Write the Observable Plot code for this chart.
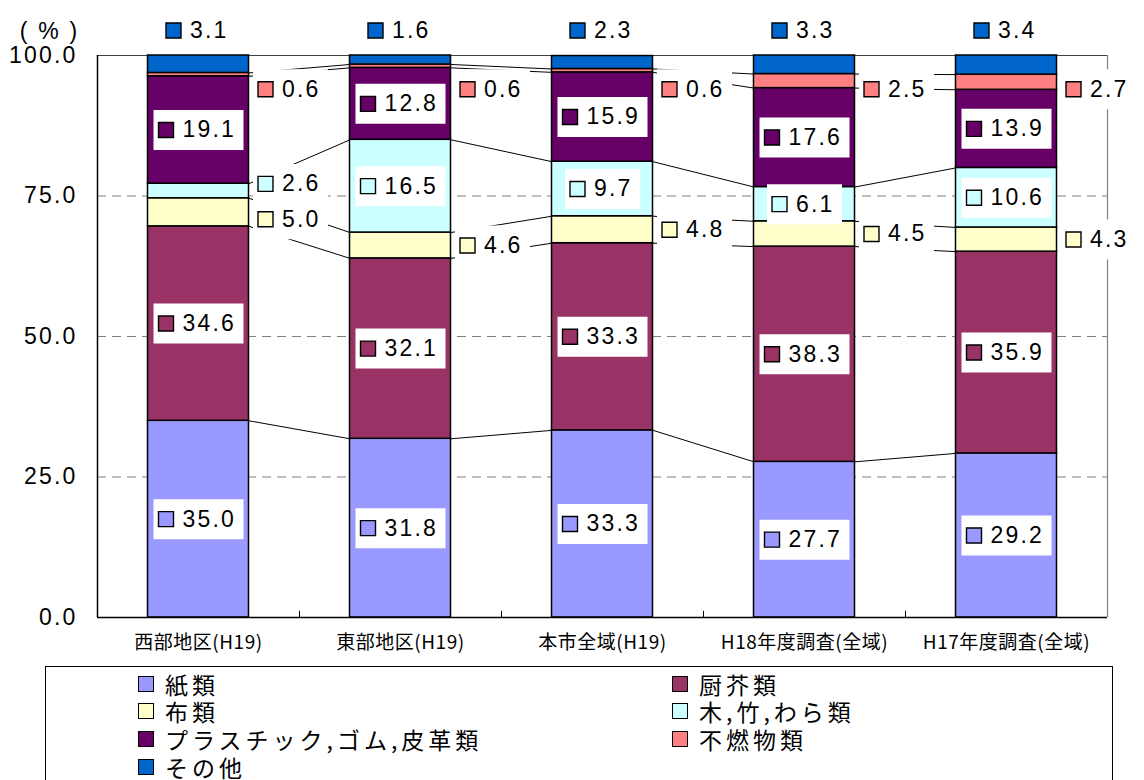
<!DOCTYPE html>
<html lang="ja">
<head>
<meta charset="utf-8">
<script src="https://cdn.jsdelivr.net/npm/d3@7"></script>
<script src="https://cdn.jsdelivr.net/npm/@observablehq/plot@0.6"></script>
<style>
  body { margin: 0; background: #fff; }
  #chart { position: absolute; left: 0; top: 0; }
  #chart svg text { letter-spacing: 2.2px; }
  #chart g[aria-label="x-axis tick label"] text {
    letter-spacing: 0.5px;
    font-family: "Noto Sans CJK JP", sans-serif;
    font-size: 19px;
  }
  #legend {
    position: absolute; left: 45px; top: 666px; width: 1068px; height: 130px;
    border: 1px solid #000; box-sizing: border-box;
    font-family: "Noto Sans CJK JP", sans-serif; font-size: 23px; letter-spacing: 4px;
  }
  .item { position: absolute; display: flex; align-items: center; height: 27px; line-height: 24px; white-space: nowrap; }
  .swatch { width: 14px; height: 14px; border: 1px solid #000; margin-right: 11px; flex: none; }
</style>
</head>
<body>
<div id="chart"></div>
<div id="legend"></div>
<script>
// Composition of household refuse by survey (percent by category)
const categories = ["西部地区(H19)", "東部地区(H19)", "本市全域(H19)", "H18年度調査(全域)", "H17年度調査(全域)"];
const types = ["紙類", "厨芥類", "布類", "木,竹,わら類", "プラスチック,ゴム,皮革類", "不燃物類", "その他"];
const colors = ["#9999FF", "#993366", "#FFFFCC", "#CCFFFF", "#660066", "#FF8080", "#0066CC"];

const paper         = [35.0, 31.8, 33.3, 27.7, 29.2];
const kitchen       = [34.6, 32.1, 33.3, 38.3, 35.9];
const cloth         = [5.0, 4.6, 4.8, 4.5, 4.3];
const wood          = [2.6, 16.5, 9.7, 6.1, 10.6];
const plastic       = [19.1, 12.8, 15.9, 17.6, 13.9];
const incombustible = [0.6, 0.6, 0.6, 2.5, 2.7];
const other         = [3.1, 1.6, 2.3, 3.3, 3.4];

const yTicks = [0, 25, 50, 75, 100];

const series = [paper, kitchen, cloth, wood, plastic, incombustible, other];

// layout
const W = 1144, H = 660;
const marginLeft = 97, marginRight = 37, marginTop = 55, marginBottom = 43;
const BAR_HALF = 0.25;                       // half bar width, in category units
const pxPerUnit = (W - marginLeft - marginRight) / categories.length;
const barHalfPx = BAR_HALF * pxPerUnit;
const FONT = 23, LS = 2.2;

// stacked segments
const segments = [];
categories.forEach((c, i) => {
  let base = 0;
  series.forEach((vals, j) => {
    const v = vals[i];
    segments.push({i, j, v, y1: base, y2: base + v, color: colors[j]});
    base += v;
  });
});
const seg = (i, j) => segments.find(s => s.i === i && s.j === j);

// series lines joining each boundary between neighbouring bars
const links = [];
for (let j = 0; j < series.length - 1; j++) {
  for (let i = 0; i < categories.length - 1; i++) {
    links.push({x1: i + BAR_HALF, y1: seg(i, j).y2, x2: i + 1 - BAR_HALF, y2: seg(i + 1, j).y2});
  }
}

// data labels
const textWidth = s => [...s].reduce((w, ch) => w + (ch === "." ? 0.278 : 0.556) * FONT, 0) + LS * (s.length - 1);
const labels = segments.map(s => {
  const text = s.v.toFixed(1);
  const place = s.j === series.length - 1 ? "top" : s.v < 6 ? "right" : "in";
  let y = place === "top" ? 100 : (s.y1 + s.y2) / 2;
  if (place === "right") y = Math.min(y, 94);
  const w = Math.round(4 + 17 + 8 + textWidth(text) + 10);
  return {...s, text, place, y, w};
});
// keep outside labels of one bar from overlapping
categories.forEach((c, i) => {
  const side = labels.filter(l => l.i === i && l.place === "right").sort((a, b) => b.y - a.y);
  for (let k = 1; k < side.length; k++) {
    const a = side[k - 1], b = side[k];
    if (a.y - b.y < 6.3) {
      const m = (a.y + b.y) / 2;
      a.y = m + 3.15; b.y = m - 3.15;
    }
  }
});

const boxSymbol = (w, h) => ({draw(ctx) { ctx.rect(-w / 2, -h / 2, w, h); }});

// one group of marks per placement and box width
const groups = d3.groups(labels, l => l.place + ":" + l.w);
const labelMarks = [];
for (const [key, items] of groups) {
  const {place, w} = items[0];
  const cx = place === "right" ? barHalfPx + 4 + w / 2 : 0;
  const dy = place === "top" ? -25 : 0;
  const left = cx - w / 2;
  if (place !== "top") {
    labelMarks.push(Plot.dot(items, {x: "i", y: "y", dx: cx, dy, symbol: boxSymbol(w, 40), fill: "white", stroke: "none"}));
  }
  labelMarks.push(Plot.dot(items, {x: "i", y: "y", dx: left + 12.5, dy, symbol: "square", r: 15 / Math.sqrt(Math.PI), fill: "color", stroke: "black", strokeWidth: 1.4}));
  labelMarks.push(Plot.text(items, {x: "i", y: "y", dx: left + 29, dy, text: "text", textAnchor: "start", fontSize: FONT, fill: "black"}));
}

const chart = Plot.plot({
  width: W, height: H,
  marginLeft, marginRight, marginTop, marginBottom,
  style: {fontFamily: "'Liberation Sans', Arial, sans-serif", fontSize: "23px", background: "white", overflow: "visible"},
  x: {type: "linear", domain: [-0.5, categories.length - 0.5], axis: null},
  y: {domain: [0, 100], axis: null},
  color: {type: "identity"},
  marks: [
    Plot.ruleY([25, 50, 75], {stroke: "#808080", strokeDasharray: "9,6", strokeWidth: 1.2}),
    Plot.ruleY([100], {stroke: "#404040", strokeWidth: 1.2}),
    Plot.ruleX([categories.length - 0.5], {stroke: "#808080", strokeWidth: 1.2}),
    Plot.link(links, {x1: "x1", y1: "y1", x2: "x2", y2: "y2", stroke: "black", strokeWidth: 1}),
    Plot.rect(segments, {x1: d => d.i - BAR_HALF, x2: d => d.i + BAR_HALF, y1: "y1", y2: "y2", fill: "color", stroke: "black", strokeWidth: 1.5}),
    Plot.ruleY([0], {stroke: "black", strokeWidth: 1.5}),
    Plot.ruleX([-0.5], {stroke: "black", strokeWidth: 1.5}),
    Plot.ruleX(d3.range(categories.length - 1).map(i => i + 0.5), {y1: 0, y2: 1.1, stroke: "black"}),
    ...labelMarks,
    Plot.axisY(yTicks, {tickFormat: d3.format(".1f"), tickSize: 0, tickPadding: 20, label: null, fontSize: 23}),
    Plot.axisX(d3.range(categories.length), {tickFormat: i => categories[i], tickSize: 0, tickPadding: 18, label: null}),
    Plot.text(["( % )"], {frameAnchor: "top-left", dx: -48, dy: -33, textAnchor: "middle", fontSize: 23})
  ]
});
document.getElementById("chart").append(chart);

// legend: two columns, row-major
const legend = document.getElementById("legend");
types.forEach((t, k) => {
  const item = document.createElement("div");
  item.className = "item";
  item.style.left = (k % 2 === 0 ? 92 : 626) + "px";
  item.style.top = (3 + 27.7 * Math.floor(k / 2)) + "px";
  const sw = document.createElement("span");
  sw.className = "swatch";
  sw.style.background = colors[k];
  const label = document.createElement("span");
  label.textContent = t;
  item.append(sw, label);
  legend.append(item);
});
</script>
</body>
</html>
